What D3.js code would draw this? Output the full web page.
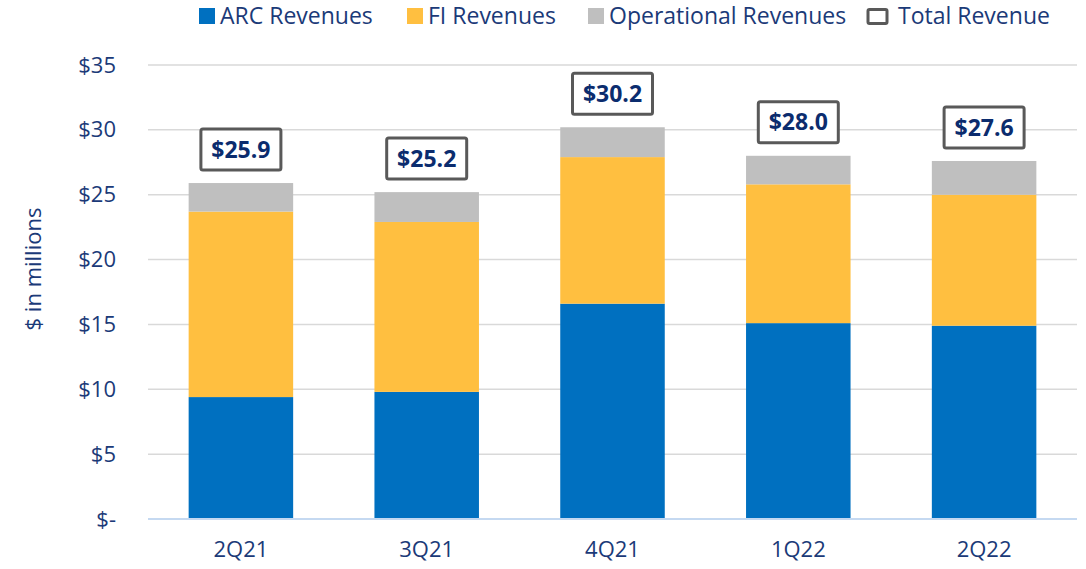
<!DOCTYPE html>
<html>
<head>
<meta charset="utf-8">
<script src="https://cdn.jsdelivr.net/npm/d3@7"></script>
<style>
  body { margin: 0; background: #fff; }
  svg text { font-family: "Open Sans", "Noto Sans", sans-serif; }
</style>
</head>
<body>
<div class="chart"></div>
<script>
var svgWidth = 1086;
var svgHeight = 569;

var margin = { top: 65, right: 9, bottom: 50, left: 148 };
var width = svgWidth - margin.left - margin.right;
var height = svgHeight - margin.top - margin.bottom;

// data
var quarters = ["2Q21", "3Q21", "4Q21", "1Q22", "2Q22"];
var arcRevenues = [9.4, 9.8, 16.6, 15.1, 14.9];
var fiRevenues = [14.3, 13.1, 11.3, 10.7, 10.1];
var opRevenues = [2.2, 2.3, 2.3, 2.2, 2.6];
var totalRevenue = [25.9, 25.2, 30.2, 28.0, 27.6];
var yTicks = [0, 5, 10, 15, 20, 25, 30, 35];

var seriesKeys = ["arc", "fi", "op"];
var seriesNames = ["ARC Revenues", "FI Revenues", "Operational Revenues"];
var colors = { arc: "#0070c0", fi: "#ffbf40", op: "#bfbfbf" };
var textColor = "#1b3a78";

var rows = quarters.map(function(q, i) {
  return { quarter: q, arc: arcRevenues[i], fi: fiRevenues[i], op: opRevenues[i], total: totalRevenue[i] };
});

var svg = d3.select(".chart")
  .append("svg")
  .attr("width", svgWidth)
  .attr("height", svgHeight);

var chartGroup = svg.append("g")
  .attr("transform", `translate(${margin.left}, ${margin.top})`);

var xBandScale = d3.scaleBand()
  .domain(quarters)
  .range([0, width])
  .paddingInner(0.4375)
  .paddingOuter(0.21875);

var yLinearScale = d3.scaleLinear()
  .domain([0, 35])
  .range([height, 0]);

// gridlines
chartGroup.selectAll(".grid")
  .data(yTicks.filter(d => d > 0))
  .enter()
  .append("line")
  .attr("class", "grid")
  .attr("x1", 0)
  .attr("x2", width)
  .attr("y1", d => yLinearScale(d))
  .attr("y2", d => yLinearScale(d))
  .attr("stroke", "#d9d9d9")
  .attr("stroke-width", 1.5);

// y axis labels
var leftAxis = d3.axisLeft(yLinearScale)
  .tickValues(yTicks)
  .tickSize(0)
  .tickPadding(32)
  .tickFormat(d => d === 0 ? "$-" : "$" + d);

var yAxis = chartGroup.append("g").call(leftAxis);
yAxis.select(".domain").remove();
yAxis.selectAll("text")
  .attr("fill", textColor)
  .style("font-size", "22px");

// stacked bars
var stack = d3.stack().keys(seriesKeys);
var stacked = stack(rows);

chartGroup.selectAll(".series")
  .data(stacked)
  .enter()
  .append("g")
  .attr("class", "series")
  .attr("fill", d => colors[d.key])
  .selectAll("rect")
  .data(d => d)
  .enter()
  .append("rect")
  .attr("x", d => xBandScale(d.data.quarter))
  .attr("width", xBandScale.bandwidth())
  .attr("y", d => yLinearScale(d[1]))
  .attr("height", d => yLinearScale(d[0]) - yLinearScale(d[1]));

// baseline
chartGroup.append("line")
  .attr("x1", 0)
  .attr("x2", width)
  .attr("y1", yLinearScale(0))
  .attr("y2", yLinearScale(0))
  .attr("stroke", "#c5d9f1")
  .attr("stroke-width", 2);

// x axis labels
var bottomAxis = d3.axisBottom(xBandScale)
  .tickSize(0)
  .tickPadding(22);

var xAxis = chartGroup.append("g")
  .attr("transform", `translate(0, ${height})`)
  .call(bottomAxis);
xAxis.select(".domain").remove();
xAxis.selectAll("text")
  .attr("fill", textColor)
  .style("font-size", "22px");

// total labels in boxes
var boxW = 80, boxH = 41, boxGap = 13;
var totals = chartGroup.selectAll(".total")
  .data(rows)
  .enter()
  .append("g")
  .attr("class", "total")
  .attr("transform", d => `translate(${xBandScale(d.quarter) + xBandScale.bandwidth() / 2}, ${yLinearScale(d.total) - boxGap - boxH / 2})`);

totals.append("rect")
  .attr("x", -boxW / 2)
  .attr("y", -boxH / 2)
  .attr("width", boxW)
  .attr("height", boxH)
  .attr("rx", 2)
  .attr("fill", "#fff")
  .attr("stroke", "#595959")
  .attr("stroke-width", 3);

totals.append("text")
  .attr("text-anchor", "middle")
  .attr("dy", "0.35em")
  .attr("fill", "#0b2c6e")
  .style("font-size", "23px")
  .style("font-weight", "bold")
  .text(d => "$" + d.total.toFixed(1));

// y axis title
svg.append("text")
  .attr("transform", "translate(33, 269) rotate(-90)")
  .attr("text-anchor", "middle")
  .attr("dy", "0.35em")
  .attr("fill", textColor)
  .style("font-size", "22px")
  .text("$ in millions");

// legend
var legendX = [199, 407, 588];
var legend = svg.append("g");
seriesKeys.forEach(function(key, i) {
  legend.append("rect")
    .attr("x", legendX[i])
    .attr("y", 8)
    .attr("width", 16)
    .attr("height", 16)
    .attr("fill", colors[key]);
  legend.append("text")
    .attr("x", legendX[i] + 21)
    .attr("y", 24)
    .attr("fill", textColor)
    .style("font-size", "23px")
    .text(seriesNames[i]);
});
legend.append("rect")
  .attr("x", 868)
  .attr("y", 9.5)
  .attr("width", 19)
  .attr("height", 14)
  .attr("rx", 1.5)
  .attr("fill", "#fff")
  .attr("stroke", "#595959")
  .attr("stroke-width", 3);
legend.append("text")
  .attr("x", 898)
  .attr("y", 24)
  .attr("fill", textColor)
  .style("font-size", "23px")
  .text("Total Revenue");
</script>
</body>
</html>
